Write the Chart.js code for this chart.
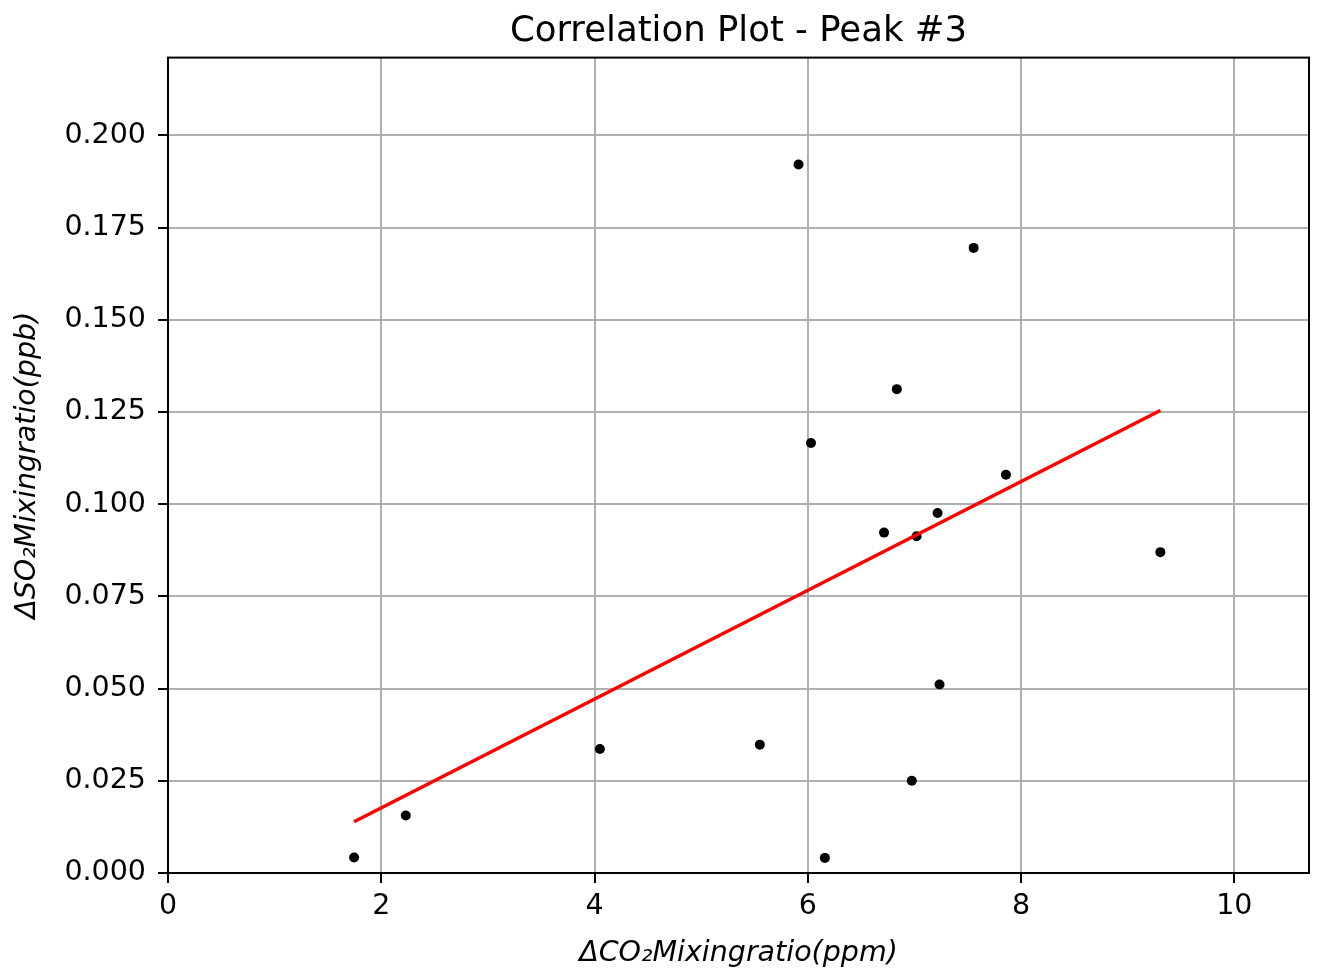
<!DOCTYPE html>
<html>
<head>
<meta charset="utf-8">
<title>Correlation Plot - Peak #3</title>
<script src="https://cdn.jsdelivr.net/npm/chart.js@4.4.1/dist/chart.umd.min.js"></script>
<style>
  html, body { margin: 0; padding: 0; background: #fff; }
  canvas { display: block; }
</style>
</head>
<body>
<canvas id="corrChart" width="1319" height="974"></canvas>
<script>
// measured deltas for peak #3
const co2Delta = [1.745, 2.23, 4.05, 5.55, 5.913, 6.03, 6.16, 6.715, 6.835, 6.975, 7.02, 7.217, 7.235, 7.555, 7.858, 9.306];
const so2Delta = [0.0042, 0.0156, 0.0336, 0.0348, 0.1921, 0.1166, 0.0041, 0.0923, 0.1312, 0.0250, 0.0913, 0.0976, 0.0511, 0.1695, 0.1080, 0.0870];

// regression line end points
const fitX = [1.745, 9.306];
const fitY = [0.0139, 0.1254];

// tick positions
const xTicks = [0, 2, 4, 6, 8, 10];
const yTicks = [0, 0.025, 0.05, 0.075, 0.1, 0.125, 0.15, 0.175, 0.2];

const FONT = "'DejaVu Sans', 'Liberation Sans', sans-serif";

// black frame around the plot area (all four spines)
const frame = {
    id: 'frame',
    afterDraw(chart) {
        const a = chart.chartArea, ctx = chart.ctx;
        ctx.save();
        ctx.strokeStyle = '#000';
        ctx.lineWidth = 2;
        ctx.strokeRect(a.left, a.top, a.right - a.left, a.bottom - a.top);
        ctx.restore();
    }
};

const ctx = document.getElementById('corrChart').getContext('2d');
new Chart(ctx, {
    type: 'scatter',
    data: {
        datasets: [{
            type: 'line',
            data: fitX.map((x, i) => ({ x: x, y: fitY[i] })),
            borderColor: '#ff0000', borderWidth: 3.5,
            pointRadius: 0, fill: false, tension: 0, order: 0
        }, {
            data: co2Delta.map((x, i) => ({ x: x, y: so2Delta[i] })),
            backgroundColor: '#000', borderWidth: 0,
            pointRadius: 5, pointHoverRadius: 5, order: 1
        }]
    },
    options: {
        responsive: false,
        animation: false,
        devicePixelRatio: 1,
        layout: { padding: { left: 0, right: 10, top: 0, bottom: 0 } },
        plugins: {
            legend: { display: false },
            tooltip: { enabled: false },
            title: {
                display: true,
                fullSize: false,
                text: 'Correlation Plot - Peak #3',
                color: '#000',
                font: { family: FONT, size: 35.5, weight: 'normal' },
                padding: { top: 10, bottom: 5 }
            }
        },
        scales: {
            x: {
                type: 'linear', min: 0, max: 10.7,
                afterBuildTicks: s => { s.ticks = xTicks.map(v => ({ value: v })); },
                afterFit: s => { s.height = 101; },
                grid: { color: '#b0b0b0', lineWidth: 2, tickColor: '#000', tickWidth: 2, tickLength: 10 },
                border: { display: false },
                ticks: { color: '#000', padding: 6, font: { family: FONT, size: 28.5 }, maxRotation: 0 },
                title: {
                    display: true, text: 'ΔCO₂Mixingratio(ppm)', color: '#000',
                    font: { family: FONT, size: 28.5, style: 'italic' },
                    padding: { top: 0, bottom: 3 }
                }
            },
            y: {
                type: 'linear', min: 0, max: 0.2211,
                afterBuildTicks: s => { s.ticks = yTicks.map(v => ({ value: v })); },
                afterFit: s => { s.width = 168; },
                grid: { color: '#b0b0b0', lineWidth: 2, tickColor: '#000', tickWidth: 2, tickLength: 10 },
                border: { display: false },
                ticks: {
                    color: '#000', padding: 12, font: { family: FONT, size: 28.5 },
                    callback: v => v.toFixed(3)
                },
                title: {
                    display: true, text: 'ΔSO₂Mixingratio(ppb)', color: '#000',
                    font: { family: FONT, size: 28.5, style: 'italic' },
                    padding: { top: 10, bottom: 0 }
                }
            }
        }
    },
    plugins: [frame]
});
</script>
</body>
</html>
